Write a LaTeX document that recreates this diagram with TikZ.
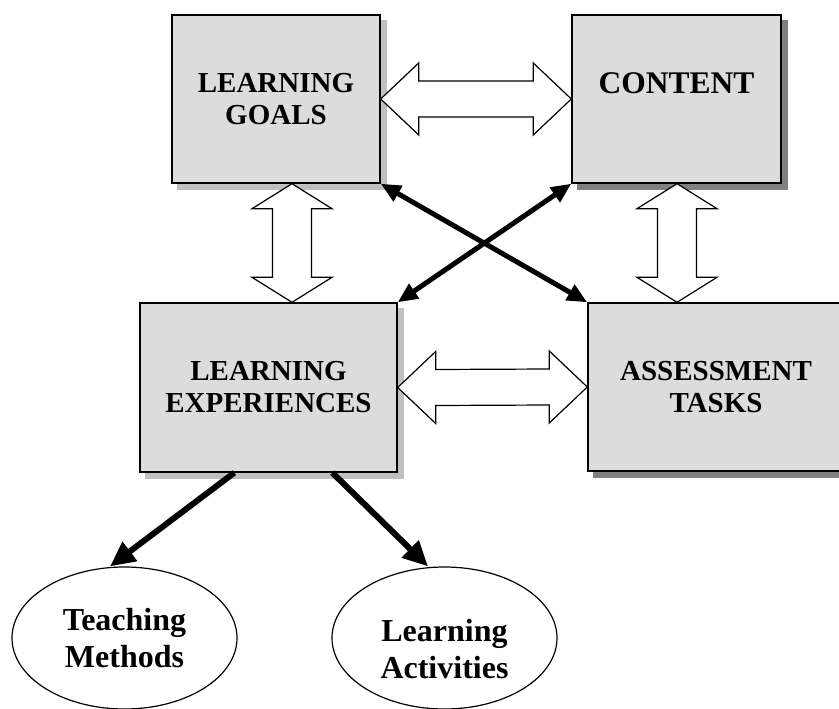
\documentclass[tikz,border=0pt]{standalone}
\usepackage{fontspec}
\setmainfont{Liberation Serif}
\usetikzlibrary{shapes.geometric,arrows.meta,calc,backgrounds}
\definecolor{boxfill}{HTML}{DCDCDC}
\definecolor{shadowlight}{HTML}{C0C0C0}
\definecolor{shadowdark}{HTML}{808080}
% horizontal double block arrow from tip #1 (left) to tip #2 (right)
\newcommand{\harr}[2]{\draw[blockarrow] (#1) -- ++(38,-36) -- ++(0,18) -- ($(#2)+(-38,-18)$) -- ++(0,-18) -- (#2) -- ++(-38,36) -- ++(0,-18) -- ($(#1)+(38,18)$) -- ++(0,18) -- cycle;}
% vertical double block arrow from tip #1 (top) to tip #2 (bottom)
\newcommand{\varr}[2]{\draw[blockarrow] (#1) -- ++(40,25) -- ++(-20.5,0) -- ($(#2)+(19.5,-25)$) -- ++(20.5,0) -- (#2) -- ++(-40,-25) -- ++(20.5,0) -- ($(#1)+(-19.5,25)$) -- ++(-20.5,0) -- cycle;}
% shadow behind a box node #1 with colour #2
\newcommand{\boxshadow}[2]{\fill[#2] ($(#1.south west)+(6,6)$) rectangle ($(#1.north east)+(6,6)$);}
\begin{document}
\begin{tikzpicture}[x=1pt,y=-1pt,
  box/.style={draw, line width=1.4pt, fill=boxfill, inner sep=0pt, align=center,
    font=\fontsize{29}{32}\selectfont\bfseries},
  ell/.style={draw, ellipse, line width=1.2pt, minimum width=225pt, minimum height=142pt,
    inner sep=0pt, align=center, font=\fontsize{32}{37}\selectfont\bfseries},
  lbl/.style={align=center, inner sep=0pt, font=\fontsize{32}{37}\selectfont\bfseries},
  blockarrow/.style={draw, fill=white, line width=1.2pt, line join=miter},
  xarrow/.style={line width=5pt, {Triangle[length=20pt,width=17pt]}-{Triangle[length=20pt,width=17pt]}},
  downarrow/.style={line width=6pt, -{Triangle[length=25pt,width=23pt]}}
]
\useasboundingbox (0,0) rectangle (839,709);

% boxes
\node[box, minimum width=208pt, minimum height=168pt] (lg) at (276,99) {LEARNING\\GOALS};
\node[box, minimum width=209pt, minimum height=168pt, text height=21.5pt, text depth=33pt,
  font=\fontsize{31.5}{34}\selectfont\bfseries] (ct) at (676.5,99) {CONTENT};
\node[box, minimum width=257pt, minimum height=169pt] (le) at (268.5,387.5) {LEARNING\\EXPERIENCES};
\node[box, minimum width=256pt, minimum height=168pt] (at) at (716,387) {ASSESSMENT\\TASKS};

\begin{scope}[on background layer]
  \boxshadow{lg}{shadowlight}
  \boxshadow{ct}{shadowdark}
  \boxshadow{le}{shadowlight}
  \boxshadow{at}{shadowdark}
\end{scope}

% ellipses
\node[ell] (tm) at (124.5,638) {Teaching\\Methods};
\node[ell, label={[lbl, yshift=-11.5pt, name=latext]center:{Learning\\Activities}}] (la) at (444.5,638) {};

% block arrows
\coordinate (v1a) at ($(lg.south)+(16,0)$);
\coordinate (v1b) at (v1a |- le.north);
\coordinate (v2a) at ($(ct.south)+(0.5,0)$);
\coordinate (v2b) at (v2a |- at.north);
\harr{lg.east}{ct.west}
\harr{le.east}{at.west}
\varr{v1a}{v1b}
\varr{v2a}{v2b}

% crossing arrows
\draw[xarrow] (lg.south east) -- (at.north west);
\draw[xarrow] (ct.south west) -- (le.north east);

% arrows to ellipses
\draw[downarrow] ($(le.south west)+(95,0)$) -- ($(tm.north)+(-14.5,0)$);
\draw[downarrow] ($(le.south west)+(193,0)$) -- ($(la.north)+(-16.5,0)$);
\end{tikzpicture}
\end{document}
